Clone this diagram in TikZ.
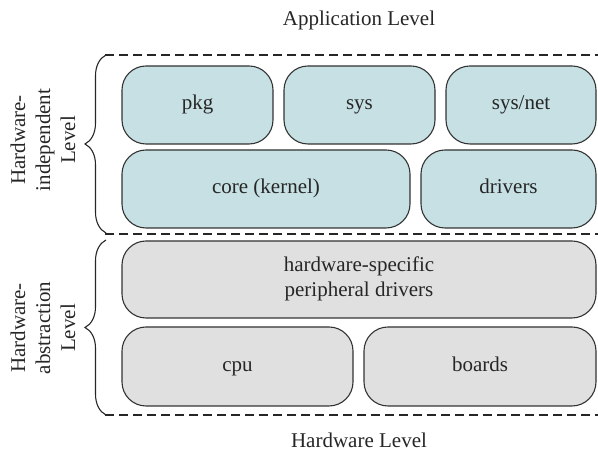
\documentclass[tikz,border=0pt]{standalone}
\usepackage{fontspec}
\setmainfont{Liberation Serif}
\usetikzlibrary{decorations.pathreplacing}
\definecolor{boxblue}{HTML}{C6E0E3}
\definecolor{boxgray}{HTML}{E0E0E0}
\definecolor{edge}{HTML}{333333}
\definecolor{txt}{HTML}{262626}
\begin{document}
\begin{tikzpicture}[x=1pt,y=1pt,
  font=\fontsize{21}{25}\selectfont, text=txt,
  base/.style={draw=edge, line width=1.1pt, rounded corners=24pt, inner sep=0pt, outer sep=0pt, align=center},
  bluebox/.style={base, fill=boxblue},
  graybox/.style={base, fill=boxgray},
  levelline/.style={draw=black!85, line width=2.2pt, dash pattern=on 9pt off 5pt},
  bracestyle/.style={draw=black!85, line width=1.1pt, decorate, decoration={brace, amplitude=21pt}},
  sidelabel/.style={rotate=90, align=center}]
\useasboundingbox (0,0) rectangle (598,460);

% level lines
\coordinate (t1) at (105,405); \coordinate (t2) at (598,405);
\coordinate (m1) at (105,226); \coordinate (m2) at (598,226);
\coordinate (b1) at (105,45);  \coordinate (b2) at (598,45);
\draw[levelline] (t1) -- (t2);
\draw[levelline] (m1) -- (m2);
\draw[levelline] (b1) -- (b2);

% braces
\coordinate (ub1) at (106,227); \coordinate (ub2) at (106,405);
\coordinate (lb1) at (106,45);  \coordinate (lb2) at (106,220);
\draw[bracestyle] (ub1) -- (ub2);
\draw[bracestyle] (lb1) -- (lb2);

% hardware-independent boxes
\node[bluebox, minimum width=151pt, minimum height=78pt] (pkg) at (197.5,355) {\strut pkg};
\node[bluebox, minimum width=151pt, minimum height=78pt] (sys) at (359.5,355) {\strut sys};
\node[bluebox, minimum width=150pt, minimum height=78pt] (sysnet) at (521,355) {\strut sys/net};
\node[bluebox, minimum width=288pt, minimum height=78pt] (core) at (266,271) {\strut core (kernel)};
\node[bluebox, minimum width=175pt, minimum height=78pt] (drivers) at (508.5,271) {\strut drivers};

% hardware-abstraction boxes
\node[graybox, minimum width=474pt, minimum height=77pt] (hw) at (359,180.5) {\strut hardware-specific\\\strut peripheral drivers};
\node[graybox, minimum width=231pt, minimum height=79pt] (cpu) at (237.5,93.5) {\strut cpu};
\node[graybox, minimum width=232pt, minimum height=79pt] (boards) at (480,93.5) {\strut boards};

% labels
\node[anchor=base] (app) at (359,434) {Application Level};
\node[anchor=base] (hwl) at (359,12) {Hardware Level};
\node[sidelabel] (hil) at (43,320) {Hardware-\\independent\\Level};
\node[sidelabel] (hal) at (43,132) {Hardware-\\abstraction\\Level};
\end{tikzpicture}
\end{document}
